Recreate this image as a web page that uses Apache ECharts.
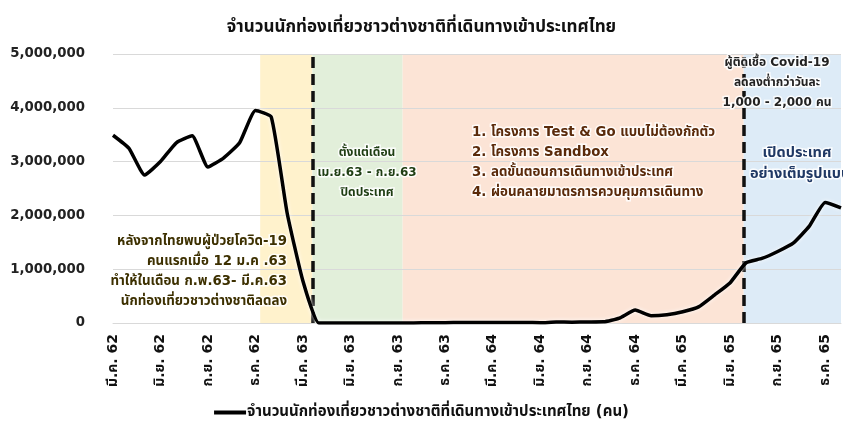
<!DOCTYPE html>
<html>
<head>
    <meta charset="utf-8">
    <title>นักท่องเที่ยวชาวต่างชาติ</title>
    <script src="https://cdn.jsdelivr.net/npm/echarts@6/dist/echarts.min.js"></script>
    <style>
        html, body { margin: 0; padding: 0; background: #fff; }
        #main { width: 843px; height: 421px; }
    </style>
</head>
<body>
<div id="main"></div>
<script type="text/javascript">
    // เดือน มี.ค.62 - ม.ค.66
    var months = ['มี.ค. 62','เม.ย. 62','พ.ค. 62','มิ.ย. 62','ก.ค. 62','ส.ค. 62','ก.ย. 62','ต.ค. 62','พ.ย. 62','ธ.ค. 62',
        'ม.ค. 63','ก.พ. 63','มี.ค. 63','เม.ย. 63','พ.ค. 63','มิ.ย. 63','ก.ค. 63','ส.ค. 63','ก.ย. 63','ต.ค. 63','พ.ย. 63','ธ.ค. 63',
        'ม.ค. 64','ก.พ. 64','มี.ค. 64','เม.ย. 64','พ.ค. 64','มิ.ย. 64','ก.ค. 64','ส.ค. 64','ก.ย. 64','ต.ค. 64','พ.ย. 64','ธ.ค. 64',
        'ม.ค. 65','ก.พ. 65','มี.ค. 65','เม.ย. 65','พ.ค. 65','มิ.ย. 65','ก.ค. 65','ส.ค. 65','ก.ย. 65','ต.ค. 65','พ.ย. 65','ธ.ค. 65',
        'ม.ค. 66'];
    // จำนวนนักท่องเที่ยว (คน)
    var tourists = [3490000, 3250000, 2750000, 3000000, 3350000, 3480000, 2900000, 3070000, 3350000, 3950000,
        3830000, 2050000, 780000, 0, 0, 0, 0, 0, 0, 1200, 6100, 6600,
        7700, 8200, 10600, 9400, 9600, 5100, 18000, 15400, 18700, 21700, 91000, 240000,
        135000, 155000, 210000, 300000, 520000, 750000, 1120000, 1200000, 1330000, 1490000, 1800000, 2240000,
        2140000];
    var yTicks = [0, 1000000, 2000000, 3000000, 4000000, 5000000];
    // ช่วงเวลา (ตำแหน่งเดือน) ของแถบสี
    var periods = [[9.3, 12.6], [12.6, 18.3], [18.3, 39.85], [39.85, 46.2]];
    var periodColors = ['#fff2cc', '#e2efda', '#fce4d6', '#ddebf7'];
    var dashedAt = [12.6, 39.85];

    var thaiFont = "'DejaVu Sans', Tahoma, 'Noto Sans Thai', sans-serif";

    var myChart = echarts.init(document.getElementById('main'));

    var areas = [];
    for (var i = 0; i < periods.length; i++) {
        areas.push([{ xAxis: periods[i][0], itemStyle: { color: periodColors[i] } }, { xAxis: periods[i][1] }]);
    }
    var lines = [];
    for (var j = 0; j < dashedAt.length; j++) {
        lines.push({ xAxis: dashedAt[j] });
    }

    // ข้อความอธิบายแต่ละช่วง
    function note(x, y, rows, align, color, size) {
        return {
            type: 'text', x: x, y: y, z: 50,
            style: {
                text: rows.join('\n'), fill: color, font: 'bold ' + size + 'px ' + thaiFont,
                lineHeight: 19.8, align: align, verticalAlign: 'top',
                stroke: 'rgba(255,255,255,0.85)', lineWidth: 3
            }
        };
    }

    var option = {
        textStyle: { fontFamily: thaiFont },
        title: {
            text: 'จำนวนนักท่องเที่ยวชาวต่างชาติที่เดินทางเข้าประเทศไทย',
            left: 'center', top: 14,
            textStyle: { fontSize: 17, fontWeight: 'bold', color: '#111', fontFamily: thaiFont }
        },
        legend: {
            top: 400, left: 'center',
            itemWidth: 32, itemHeight: 4,
            itemGap: 4,
            icon: 'rect',
            textStyle: { fontSize: 15, fontWeight: 'bold', color: '#111', fontFamily: thaiFont, padding: [0, 0, 0, -4] },
            data: ['จำนวนนักท่องเที่ยวชาวต่างชาติที่เดินทางเข้าประเทศไทย (คน)']
        },
        grid: { left: 113, top: 54, bottom: 98, right: 2 },
        xAxis: [{
            type: 'category',
            data: months,
            boundaryGap: false,
            axisLine: { lineStyle: { color: '#d9d9d9', width: 1 } },
            axisTick: { show: false },
            axisLabel: {
                interval: 2, rotate: 90, margin: 11,
                fontSize: 14, fontWeight: 'bold', color: '#111', fontFamily: thaiFont
            }
        }, {
            type: 'value', min: 0, max: months.length - 1, show: false
        }],
        yAxis: {
            type: 'value', min: yTicks[0], max: yTicks[yTicks.length - 1], interval: yTicks[1] - yTicks[0],
            z: 3,
            axisLine: { show: false },
            axisTick: { show: false },
            splitLine: { lineStyle: { color: '#d9d9d9', width: 1 } },
            axisLabel: {
                margin: 28, fontSize: 13.3, fontWeight: 'bold', color: '#222', fontFamily: thaiFont,
                formatter: function (v) { return v.toLocaleString('en-US'); }
            }
        },
        graphic: [
            note(287, 232, ['หลังจากไทยพบผู้ป่วยโควิด-19', 'คนแรกเมื่อ 12 ม.ค .63', 'ทำให้ในเดือน ก.พ.63- มี.ค.63', 'นักท่องเที่ยวชาวต่างชาติลดลง'], 'right', '#3d3000', 13.3),
            note(367, 143, ['ตั้งแต่เดือน', 'เม.ย.63 - ก.ย.63', 'ปิดประเทศ'], 'center', '#1e3d12', 12),
            note(472, 123, ['1. โครงการ Test & Go แบบไม่ต้องกักตัว', '2. โครงการ Sandbox', '3. ลดขั้นตอนการเดินทางเข้าประเทศ', '4. ผ่อนคลายมาตรการควบคุมการเดินทาง'], 'left', '#5a2a0a', 13.3),
            note(777, 53, ['ผู้ติดเชื้อ Covid-19', 'ลดลงต่ำกว่าวันละ', '1,000 - 2,000 คน'], 'center', '#222', 12),
            note(797, 143, ['เปิดประเทศ'], 'center', '#1f3864', 14.5),
            note(750, 164, ['อย่างเต็มรูปแบบ'], 'left', '#1f3864', 14.5)
        ],
        series: [{
            name: 'bands',
            type: 'line',
            xAxisIndex: 1,
            data: [],
            z: 1,
            silent: true,
            markArea: { silent: true, data: areas },
            markLine: {
                silent: true, symbol: 'none',
                label: { show: false },
                lineStyle: { color: '#111', width: 3.5, type: [11, 6] },
                data: lines
            }
        }, {
            name: 'จำนวนนักท่องเที่ยวชาวต่างชาติที่เดินทางเข้าประเทศไทย (คน)',
            type: 'line',
            data: tourists,
            z: 5,
            smooth: 0.15,
            showSymbol: false,
            color: '#000',
            lineStyle: { color: '#000', width: 3.5, shadowColor: 'rgba(255,255,255,0.9)', shadowBlur: 4 }
        }]
    };
    myChart.setOption(option);
</script>
</body>
</html>
